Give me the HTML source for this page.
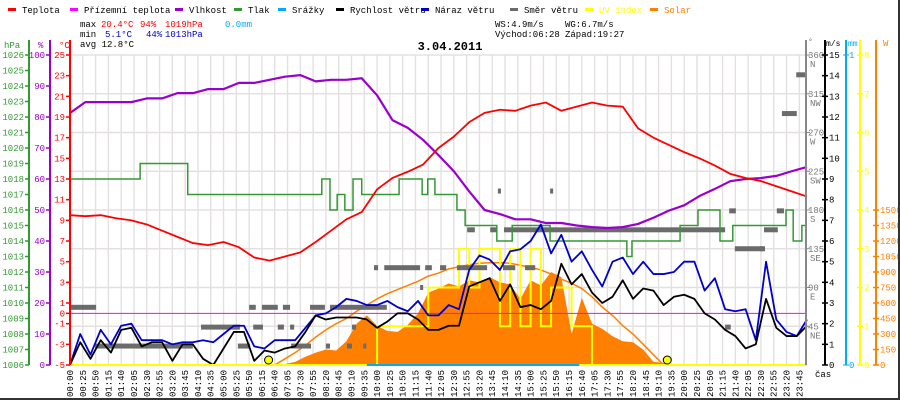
<!DOCTYPE html>
<html><head><meta charset="utf-8"><style>
html,body{margin:0;padding:0;background:#fff;}
#wrap{position:relative;width:900px;height:400px;overflow:hidden;}
svg{display:block;font-family:"Liberation Mono",monospace;}
</style></head><body>
<div id="wrap">
<svg id="chart" width="900" height="400" viewBox="0 0 900 400"></svg>
</div>
<script>
// ---------- DATA ----------
const halfHourTimes = [0,30,60,90,120,150,180,210,240,270,300,330,360,390,420,450,480,510,540,570,600,630,660,690,720,750,780,810,840,870,900,930,960,990,1020,1050,1080,1110,1140,1170,1200,1230,1260,1290,1320,1350,1380,1410,1440];
const temperature = [9.5,9.4,9.5,9.2,9.0,8.6,8.0,7.4,6.8,6.6,6.9,6.4,5.4,5.1,5.5,5.9,6.9,8.0,9.1,9.8,12.0,13.1,13.7,14.4,16.0,17.1,18.5,19.4,19.7,19.6,20.1,20.4,19.6,20.0,20.4,20.1,20.0,17.9,17.0,16.3,15.6,15.0,14.3,13.5,13.1,12.8,12.3,11.8,11.3];
const humidity = [81.3,84.8,84.8,84.8,84.8,86,86,87.7,87.7,89,89,91,91,92,93,93.5,91.5,92,92,92.5,87,79,76.5,72.6,67.7,62.5,56,50,48.7,47,47,45.8,45.8,45,44.5,44.2,44.5,45.5,47.5,49.8,51.5,54.5,56.8,59.3,60,60.3,61,62.5,63.9];
const pressureTimes = [0,137,230,492,508,522,537,553,570,643,688,699,713,756,772,834,864,938,1088,1098,1192,1227,1270,1295,1399,1413,1430];
const pressureValues = [1018,1019,1017,1018,1016,1017,1016,1018,1017,1018,1017,1018,1017,1016,1015,1014,1015,1014,1013,1014,1015,1016,1014,1015,1016,1014,1015];
const windTimes = [0,20,40,60,80,100,120,140,160,180,200,220,240,260,280,300,320,340,360,380,400,420,440,460,480,500,520,540,560,580,600,620,640,660,680,700,720,740,760,780,800,820,840,860,880,900,920,940,960,980,1000,1020,1040,1060,1080,1100,1120,1140,1160,1180,1200,1220,1240,1260,1280,1300,1320,1340,1360,1380,1400,1420,1440];
const windSpeed = [0,1.1,0.3,1.2,0.6,1.7,1.8,0.9,1.1,1.1,0.2,1.0,1.0,0.3,0,0.8,1.6,1.6,0.2,0.7,0.6,0.8,0.9,1.6,2.4,2.2,2.3,2.3,2.3,2.2,1.8,2.1,2.5,2.5,2.2,1.7,1.7,1.9,1.9,3.8,4.0,4.2,3.1,3.9,2.8,2.9,2.7,3.1,4.9,3.9,4.4,3.5,3.0,3.3,4.1,3.2,3.7,3.6,2.9,3.3,3.4,3.2,2.5,2.2,1.7,1.4,0.8,1.0,3.2,1.8,1.4,1.4,1.9];
const windGust = [0,1.5,0.5,1.7,1.0,1.9,2.0,1.2,1.2,1.2,1.0,1.1,1.1,1.2,1.1,1.5,1.9,1.9,0.9,0.8,1.2,1.2,1.2,1.8,2.4,2.5,2.8,3.2,3.1,2.9,2.9,3.1,2.8,2.6,3.1,2.4,2.4,2.9,2.7,4.6,5.3,5.1,4.6,5.5,5.6,6.0,6.8,5.4,6.3,5.0,5.5,4.6,3.8,5.0,5.2,4.4,5.0,4.4,4.4,4.5,5.0,5.0,3.6,4.2,2.7,2.6,2.7,1.2,5.0,2.2,1.6,1.4,2.2];
const solar = [0,0,0,0,0,0,0,0,0,0,0,0,0,0,0,0,0,0,0,0,5,10,30,80,120,150,140,230,400,480,380,330,320,390,500,700,740,790,760,820,800,850,800,780,640,820,770,900,850,300,650,400,350,280,230,220,150,30,20,5,0,0,0,0,0,0,0,0,0,0,0,0,0];
const solarTheory = [0,0,0,0,0,0,0,0,0,0,0,0,0,0,0,0,0,0,0,0,0,60,120,190,270,340,400,450,520,580,640,690,730,770,810,860,890,930,950,970,985,990,990,985,965,945,920,880,830,790,740,660,560,480,380,300,200,100,0,0,0,0,0,0,0,0,0,0,0,0,0,0,0];
const uvIndex = [0,0,0,0,0,0,0,0,0,0,0,0,0,0,0,0,0,0,0,0,0,0,0,0,0,0,0,0,0,0,1,1,1,1,1,2,2,2,3,2,3,3,1,3,1,3,1,2,2,1,1,0,0,0,0,0,0,0,0,0,0,0,0,0,0,0,0,0,0,0,0,0,0];
const dirStart = [0,49,328,432,256,358,406,430,350,375,416,469,508,500,541,573,551,684,594,614,694,723,756,846,889,776,821,848,836,938,1288,1381,1299,1280,1356,1348,1391,1419];
const dirEnd   = [51,240,352,471,332,377,418,438,363,406,430,498,619,508,551,576,559,690,602,684,707,735,815,870,909,791,834,1280,842,944,1301,1395,1358,1291,1383,1354,1420,1440];
const dirDeg   = [67,22,22,22,44,44,44,44,67,67,67,67,67,22,22,22,44,90,113,113,113,113,113,113,113,157,157,157,202,202,179,179,135,44,157,135,292,337];
const sunEvents = [388,1167];
const hpaTicks = [1026,1025,1024,1023,1022,1021,1020,1019,1018,1017,1016,1015,1014,1013,1012,1011,1010,1009,1008,1007,1006];
const humTicks = [100,90,80,70,60,50,40,30,20,10,0];
const tempTicks = [25,23,21,19,17,15,13,11,9,7,5,3,1,0,-1,-3,-5];
const msTicks = [15,14,13,12,11,10,9,8,7,6,5,4,3,2,1,0];
const uvTicks = [8,7,6,5,4,3,2,1,0];
const wTicks = [1500,1350,1200,1050,900,750,600,450,300,150,0];
const dirTicks = [360,315,270,225,180,135,90,45];
const dirNames = ["N","NW","W","SW","S","SE","E","NE"];

// ---------- SCALES ----------
const X0=70, X1=807, YB=365, YT=55;
const sx = m => X0 + m*(X1-X0)/1440;
const yT = t => YB - (t+5)*(YB-YT)/30;
const yH = h => YB - h*(YB-YT)/100;
const yP = p => YB - (p-1006)*(YB-YT)/20;
const yW = v => YB - v*(YB-YT)/15;
const yD = d => YB - d*(YB-YT)/360;
const yU = u => YB - u*(YB-YT)/8;
const yS = w => YB - w*(YB-YT)/3000;

const svg = document.getElementById('chart');
const NS='http://www.w3.org/2000/svg';
function mk(tag, attrs, parent){
  const e=document.createElementNS(NS,tag);
  for(const k in attrs) e.setAttribute(k, attrs[k]);
  (parent||svg).appendChild(e); return e;
}
function txt(x,y,s,fill,anchor,size,parent,weight){
  const t=mk('text',{x:x,y:y,fill:fill,'text-anchor':anchor||'start','font-size':size||9,'font-weight':weight||'normal'},parent);
  t.textContent=s; return t;
}

// grid
const grid=mk('g',{});


for(let m=0;m<=1425;m+=25){ mk('line',{x1:sx(m),x2:sx(m),y1:YT,y2:YB,stroke:'#e4e0e0','stroke-width':1.4},grid); }
for(let d=45;d<=360;d+=45){ mk('line',{x1:X0,x2:X1,y1:yD(d),y2:yD(d),stroke:'#e4e0e0','stroke-width':1.4},grid); }

// solar area
const solarG=mk('g',{});


let sp='M'+sx(windTimes[0])+','+YB;
windTimes.forEach((t,i)=>{ sp+=' L'+sx(t)+','+yS(solar[i]); });
sp+=' L'+sx(1440)+','+YB+' Z';
mk('path',{d:sp,fill:'#ff8000',stroke:'none'},solarG);

// theoretical solar line
let st='';
windTimes.forEach((t,i)=>{ st+=(i?' L':'M')+sx(t)+','+yS(solarTheory[i]); });
const stl=mk('path',{d:st,fill:'none',stroke:'#ff8000','stroke-width':1.5});



// UV step line
let uv='';
windTimes.forEach((t,i)=>{ uv+=(i?' L'+sx(t)+','+yU(uvIndex[i-1])+' L':'M')+sx(t)+','+yU(uvIndex[i]); });
const uvl=mk('path',{d:uv,fill:'none',stroke:'#ffff00','stroke-width':2});



// zero temp line
const zl=mk('line',{x1:X0,x2:X1,y1:yT(0),y2:yT(0),stroke:'#ff00ff','stroke-width':1});



// wind direction bars
const dirG=mk('g',{});


dirDeg.forEach((d,i)=>{
  const r=mk('rect',{x:sx(dirStart[i]),y:yD(d)-2.5,width:Math.max(3,sx(dirEnd[i])-sx(dirStart[i])),height:5,fill:'#6b6b6b'},dirG);
  
  
});

// pressure step
let pp='';
pressureTimes.forEach((t,i)=>{ pp+=(i?' L'+sx(t)+','+yP(pressureValues[i-1])+' L':'M')+sx(t)+','+yP(pressureValues[i]); });
pp+=' L'+sx(1440)+','+yP(pressureValues[pressureValues.length-1]);
const pl=mk('path',{d:pp,fill:'none',stroke:'#339933','stroke-width':1.5});



function line(times, vals, fy, color, w, name){
  let d=''; times.forEach((t,i)=>{ d+=(i?' L':'M')+sx(t)+','+fy(vals[i]); });
  const p=mk('path',{d:d,fill:'none',stroke:color,'stroke-width':w,'stroke-linejoin':'round'});
  
  
}
line(windTimes, windGust, yW, '#0000cc', 1.8, 'wind-gust-line');
line(windTimes, windSpeed, yW, '#000000', 1.8, 'wind-speed-line');
line(halfHourTimes, humidity, yH, '#9900cc', 2.2, 'humidity-line');
line(halfHourTimes, temperature, yT, '#ff0000', 1.8, 'temperature-line');

// baseline
mk('line',{x1:X0,x2:X1,y1:YB,y2:YB,stroke:'#ffff00','stroke-width':2});
mk('line',{x1:sx(580),x2:sx(995),y1:YB,y2:YB,stroke:'#00aaff','stroke-width':2});

// sunrise/sunset dots
sunEvents.forEach(m=>{
  const c=mk('circle',{cx:sx(m),cy:YB-5,r:4,fill:'#ffff00',stroke:'#000','stroke-width':1});
  
  
});

// left axes
function axis(x,color,ticks,fy,labelX,name,side){
  const g=mk('g',{});
  
  
  mk('line',{x1:x,x2:x,y1:40,y2:YB,stroke:color,'stroke-width':2},g);
  ticks.forEach(v=>{
    const y=fy(v);
    if(side==='left'){ mk('line',{x1:x-4,x2:x,y1:y,y2:y,stroke:color,'stroke-width':1.5},g); txt(x-5,y+3,String(v),color,'end',9,g); }
    else { mk('line',{x1:x-3,x2:x+3,y1:y,y2:y,stroke:color,'stroke-width':1.5},g); txt(x+4,y+3,String(v),color,'start',9,g); }
  });
  return g;
}
axis(29,'#339933',hpaTicks,yP,0,'pressure-axis','left');
axis(50,'#9900cc',humTicks,yH,0,'humidity-axis','left');
axis(70,'#ff0000',tempTicks,yT,0,'temperature-axis','left');
txt(4,48,'hPa','#339933','start',9);
txt(38,48,'%','#9900cc','start',9);
txt(59,48,'°C','#ff0000','start',9);

// direction axis
const dg=mk('g',{});


mk('line',{x1:806,x2:806,y1:40,y2:YB,stroke:'#888','stroke-width':2},dg);
dirTicks.forEach((d,i)=>{ const y=yD(d); mk('line',{x1:806,x2:810,y1:y,y2:y,stroke:'#888'},dg); txt(808,y+3,String(d),'#777','start',9,dg); txt(810,y+12,dirNames[i],'#777','start',9,dg); });
txt(808,44,'°','#777','start',8);
axis(825,'#000',msTicks,yW,0,'wind-speed-axis','right');
txt(826,46,'m/s','#000','start',8);
const mg=mk('g',{});


mk('line',{x1:846,x2:846,y1:40,y2:YB,stroke:'#00aaff','stroke-width':2},mg);
[[1,YT],[0,YB]].forEach(a=>{ mk('line',{x1:843,x2:849,y1:a[1],y2:a[1],stroke:'#00aaff'},mg); txt(849,a[1]+3,String(a[0]),'#00aaff','start',9,mg); });
txt(848,46,'mm','#00aaff','start',8);
axis(860,'#ffff00',uvTicks,yU,0,'uv-axis','right');
axis(876,'#ff8000',wTicks.filter(v=>v<=1500),yS,0,'solar-axis','right');
txt(883,46,'W','#ff8000','start',9);

// x labels
const xg=mk('g',{});


for(let m=0;m<=1425;m+=25){
  const hh=String(Math.floor(m/60)).padStart(2,'0'), mm=String(m%60).padStart(2,'0');
  const x=sx(m)+3;
  const t=mk('text',{x:0,y:0,transform:'translate('+x+',370) rotate(-90)',fill:'#000','text-anchor':'end','font-size':9},xg);
  t.textContent=hh+':'+mm;
}
txt(815,377,'čas','#000','start',9);

// title
const tt=txt(450,50,'3.04.2011','#000','middle',12,null,'bold');



// legend
const legendItems=[['Teplota','#ff0000',8],['Přízemní teplota','#ff00ff',70],['Vlhkost','#9900cc',175],['Tlak','#339933',234],['Srážky','#00aaff',278],['Rychlost větru','#000000',336],['Náraz větru','#0000cc',421],['Směr větru','#6b6b6b',510],['UV index','#ffff00',585],['Solar','#ff8000',650]];
legendItems.forEach(it=>{
  const g=mk('g',{});
  
  
  mk('rect',{x:it[2],y:8,width:8,height:3,fill:it[1]},g);
  txt(it[2]+14,13,it[0],(it[0]==='UV index'||it[0]==='Solar')?it[1]:'#000','start',9,g);
});

// stats
const sg=mk('g',{});


txt(80,27,'max','#000','start',9,sg); txt(101,27,'20.4°C','#ff0000','start',9,sg); txt(140,27,'94%','#ff0000','start',9,sg); txt(165,27,'1019hPa','#ff0000','start',9,sg); txt(225,27,'0.0mm','#00aaff','start',9,sg);
txt(80,37,'min','#000','start',9,sg); txt(105,37,'5.1°C','#0000cc','start',9,sg); txt(146,37,'44%','#0000cc','start',9,sg); txt(165,37,'1013hPa','#0000cc','start',9,sg);
txt(80,47,'avg 12.8°C','#000','start',9,sg);
txt(495,27,'WS:4.9m/s','#000','start',9,sg); txt(565,27,'WG:6.7m/s','#000','start',9,sg);
txt(495,37,'Východ:06:28','#000','start',9,sg); txt(565,37,'Západ:19:27','#000','start',9,sg);

// border
mk('line',{x1:0,x2:900,y1:399,y2:399,stroke:'#333','stroke-width':2});
mk('line',{x1:899,x2:899,y1:0,y2:400,stroke:'#333','stroke-width':2});
</script>
</body></html>
